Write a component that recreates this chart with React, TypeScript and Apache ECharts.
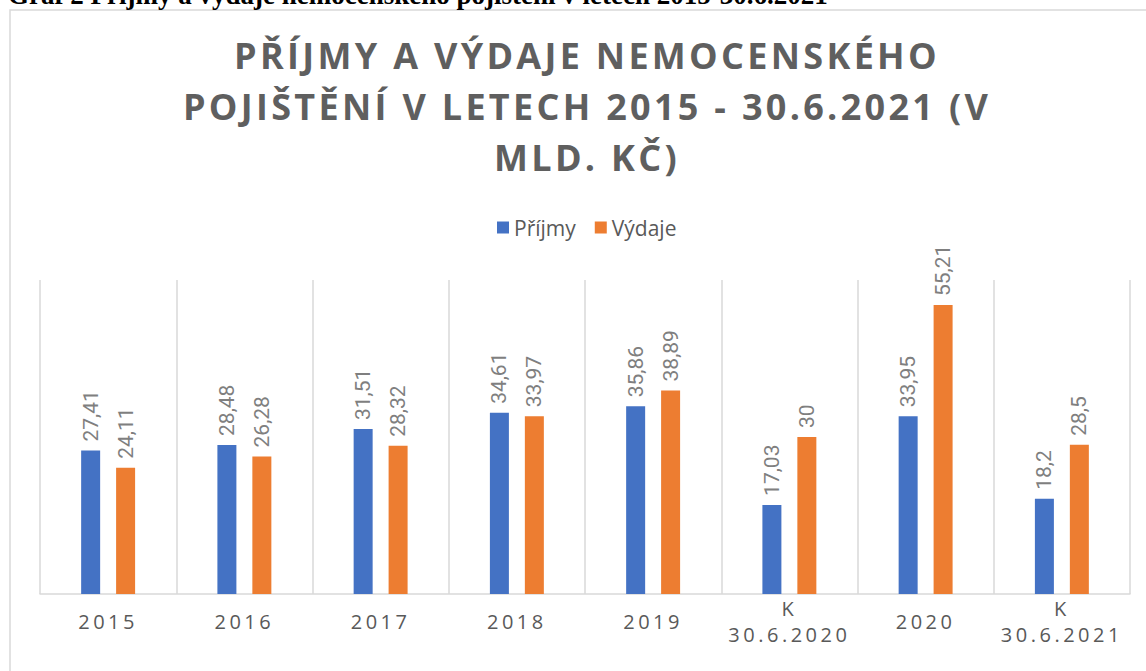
import React, { useEffect, useRef } from "react";
import * as echarts from "echarts";

const CATEGORIES = ["2015", "2016", "2017", "2018", "2019", "K\n30.6.2020", "2020", "K\n30.6.2021"];
const PRIJMY = [27.41, 28.48, 31.51, 34.61, 35.86, 17.03, 33.95, 18.2];
const VYDAJE = [24.11, 26.28, 28.32, 33.97, 38.89, 30, 55.21, 28.5];
const SERIES_NAMES = ["Příjmy", "Výdaje"];
const TITLE_LINES = ["PŘÍJMY A VÝDAJE NEMOCENSKÉHO", "POJIŠTĚNÍ V LETECH 2015 - 30.6.2021 (V", "MLD. KČ)"];
const CAPTION = "Graf 2 Příjmy a výdaje nemocenského pojištění v letech 2015-30.6.2021";

const fmt = (v: number) => String(v).replace(".", ",");

export default function App() {
  const ref = useRef<HTMLDivElement>(null);

  useEffect(() => {
    document.body.style.margin = "0";
    if (!ref.current) return;
    const chart = echarts.init(ref.current, null, { renderer: "svg" });

    const axisLabelLines = new Set<string>();
    CATEGORIES.forEach((c) => c.split("\n").forEach((l) => axisLabelLines.add(l)));

    const applySpacing = () => {
      const svg = ref.current?.querySelector("svg");
      if (!svg) return;
      svg.querySelectorAll("text").forEach((t) => {
        const s = t.textContent || "";
        if (TITLE_LINES.includes(s)) t.setAttribute("letter-spacing", "3.3");
        else if (axisLabelLines.has(s)) t.setAttribute("letter-spacing", "3.5");
      });
    };

    const labelOpt = {
      show: true,
      position: "top",
      rotate: 90,
      align: "left",
      verticalAlign: "middle",
      distance: 9,
      color: "#7f7f7f",
      fontFamily: "'Liberation Sans Narrow', Roboto",
      fontSize: 21,
      formatter: (p: any) => fmt(p.value),
    };

    chart.setOption({
      animation: false,
      backgroundColor: "#ffffff",
      title: {
        text: TITLE_LINES.join("\n"),
        left: 582,
        textAlign: "center",
        top: 25,
        textStyle: {
          fontFamily: "Open Sans",
          fontWeight: "bold",
          fontSize: 36,
          lineHeight: 51,
          color: "#5f5f5f",
        },
      },
      legend: {
        data: SERIES_NAMES,
        left: 497,
        top: 217,
        padding: 0,
        icon: "rect",
        itemWidth: 12,
        itemHeight: 12,
        itemGap: 19,
        textStyle: { fontFamily: "Open Sans", fontSize: 21, color: "#595959" },
      },
      graphic: [
        {
          type: "rect",
          shape: { x: 10, y: 10, width: 1300, height: 800 },
          style: { fill: "none", stroke: "#d9d9d9", lineWidth: 1.5 },
          silent: true,
          z: -10,
        },
        {
          type: "text",
          x: 8,
          y: -5,
          style: {
            text: CAPTION,
            font: "bold 27px 'Liberation Serif'",
            fill: "#000000",
            verticalAlign: "middle",
            align: "left",
          },
        },
      ],
      grid: { left: 40, right: 16, top: 280, bottom: 77, containLabel: false },
      xAxis: {
        type: "category",
        data: CATEGORIES,
        axisLine: { show: true, lineStyle: { color: "#d9d9d9", width: 1.5 } },
        axisTick: { show: false },
        splitLine: { show: true, lineStyle: { color: "#d9d9d9", width: 1.5 } },
        axisLabel: {
          interval: 0,
          margin: 27,
          verticalAlign: "middle",
          lineHeight: 26,
          fontFamily: "Open Sans",
          fontSize: 20,
          color: "#595959",
        },
      },
      yAxis: {
        type: "value",
        min: 0,
        max: 60,
        show: false,
        splitLine: { show: false },
      },
      series: [
        {
          name: SERIES_NAMES[0],
          type: "bar",
          data: PRIJMY,
          barWidth: 19,
          barGap: "84%",
          itemStyle: { color: "#4472C4" },
          label: labelOpt,
        },
        {
          name: SERIES_NAMES[1],
          type: "bar",
          data: VYDAJE,
          barWidth: 19,
          itemStyle: { color: "#ED7D31" },
          label: labelOpt,
        },
      ],
    });

    applySpacing();
    chart.on("finished", applySpacing);

    return () => {
      chart.dispose();
    };
  }, []);

  return <div ref={ref} style={{ width: 1146, height: 671 }} />;
}
